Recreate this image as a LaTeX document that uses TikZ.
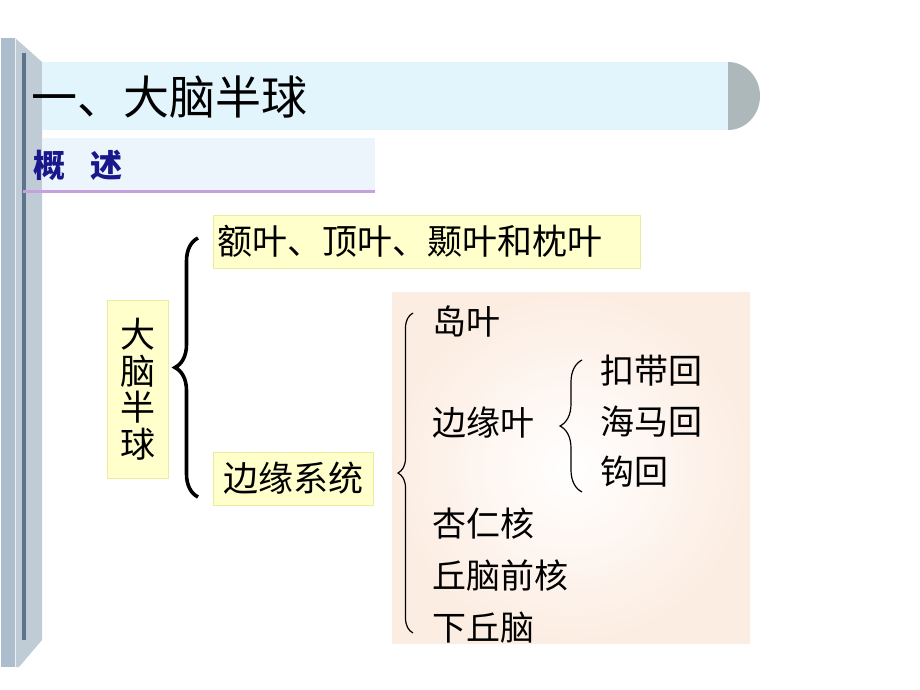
\documentclass[tikz,border=0pt]{standalone}
\usepackage{fontspec}
\setmainfont{Noto Sans CJK SC}
\usetikzlibrary{decorations.pathreplacing}

\definecolor{barFace}{RGB}{172,190,205}
\definecolor{barSide}{RGB}{192,204,213}
\definecolor{barSlot}{RGB}{92,116,140}
\definecolor{titleBlue}{RGB}{226,244,252}
\definecolor{capGray}{RGB}{173,184,187}
\definecolor{subBlue}{RGB}{236,245,252}
\definecolor{lineLilac}{RGB}{200,160,224}
\definecolor{navyText}{RGB}{24,24,140}
\definecolor{boxYellow}{RGB}{255,255,204}
\definecolor{boxEdge}{RGB}{236,236,160}
\definecolor{peach}{RGB}{252,237,226}

\begin{document}
\begin{tikzpicture}
      [ x=1pt, y=-1pt
      , ybox/.style={fill=boxYellow, draw=boxEdge, line width=1pt, inner sep=4pt,
                     font=\fontsize{35}{37}\selectfont}
      , item/.style={anchor=west, inner sep=0pt, font=\fontsize{34}{36}\selectfont}
      , bigbrace/.style={decorate, decoration={brace, amplitude=23pt}, line width=3.6pt}
      , thinbrace/.style={decorate, decoration={brace, amplitude=15pt}, line width=1.2pt}
      ]
    \useasboundingbox[fill=white] (0,0) rectangle (920,690);

    % side bar
    \fill[barFace] (1,38) -- (15,38) -- (15,667) -- (1,667) -- cycle;
    \fill[barSide] (15,38) -- (42,62) -- (42,640) -- (19,667) -- (15,667) -- cycle;
    \draw[white!70!barSide, line width=1pt] (15,38) -- (15,667);
    \fill[barSlot] (22,53) rectangle (26,640);

    % title band
    \fill[capGray] (728,96) ellipse [x radius=32, y radius=34];
    \fill[titleBlue] (42,62) rectangle (728,130);
    \node[anchor=west, inner sep=0pt, font=\fontsize{46}{48}\selectfont]
      (title) at (31,97) {一、大脑半球};

    % sub band
    \fill[subBlue] (42,138) rectangle (375,190);
    \draw[lineLilac, line width=3pt] (23,191) -- (375,191);
    \node[anchor=west, inner sep=0pt, text=navyText, font=\fontsize{32}{34}\selectfont\bfseries]
      (sub) at (33,165) {概\hspace{0.8em}述};

    % limbic area
    \shade[inner color=white, outer color=peach] (392,292) rectangle (750,643);

    \node[ybox, minimum width=61pt, minimum height=178pt, align=center,
          font=\fontsize{35}{36.5}\selectfont] (BH) at (137.5,389) {大\\脑\\半\\球};
    \node[ybox, anchor=west, text width=419pt, minimum height=53pt, align=left]
      (LO) at (213,241.5) {额叶、顶叶、颞叶和枕叶};
    \node[ybox, minimum width=160pt, minimum height=53pt] (LS) at (293,478.5) {边缘系统};

    \node[item] (IN) at (432,322) {岛叶};
    \node[item] (LL) at (432,423) {边缘叶};
    \node[item] (AM) at (432,524) {杏仁核};
    \node[item] (AT) at (432,576) {丘脑前核};
    \node[item] (HY) at (432,628) {下丘脑};

    \node[item] (CG) at (600,371) {扣带回};
    \node[item] (HG) at (600,422) {海马回};
    \node[item] (UN) at (600,472) {钩回};

    % braces
    \coordinate (bigTop) at (198,238);
    \coordinate (bigBot) at (198,497);
    \coordinate (limTop) at (413,313);
    \coordinate (limBot) at (413,633);
    \coordinate (lobTop) at (582,360);
    \coordinate (lobBot) at (582,492);

    \draw[bigbrace] (bigBot) -- (bigTop);
    \draw[thinbrace] (limBot) -- (limTop);
    \draw[thinbrace, decoration={amplitude=22pt}] (lobBot) -- (lobTop);

  \end{tikzpicture}
\end{document}
